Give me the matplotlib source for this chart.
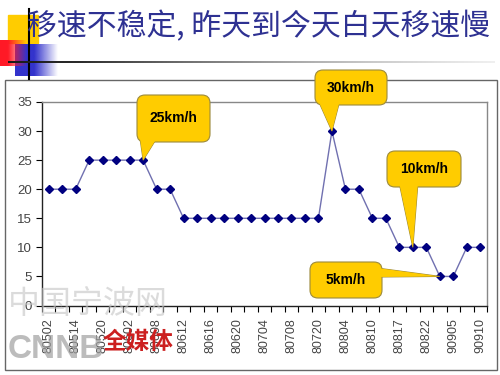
#!/usr/bin/env python3

import numpy as np
import matplotlib.pyplot as plt
from matplotlib.patches import FancyBboxPatch, Polygon, Rectangle

plt.rcParams['font.family'] = ['Liberation Sans', 'DejaVu Sans']
CJK = ['Noto Sans CJK SC', 'DejaVu Sans']

# data
speeds = [20, 20, 20, 25, 25, 25, 25, 25, 20, 20,
          15, 15, 15, 15, 15, 15, 15, 15, 15, 15, 15,
          30, 20, 20, 15, 15, 10, 10, 10, 5, 5, 10, 10]
tick_labels = ['80502', '80514', '80520', '80602', '80608', '80612', '80616',
               '80620', '80704', '80708', '80720', '80804', '80810', '80817',
               '80822', '90905', '90910']
title = '移速不稳定, 昨天到今天白天移速慢'
callout_idx = [7, 21, 27, 29]
callout_text = ['25km/h', '30km/h', '10km/h', '5km/h']

W, H = 500, 375
fig = plt.figure(figsize=(5, 3.75), dpi=100)
fig.patch.set_facecolor('white')

# background layer in pixel coords (y from top)
bg = fig.add_axes([0, 0, 1, 1], zorder=0)


def hgrad(ax, x0, x1, y0, y1, rgb, fade_start):
    n = 128
    t = np.linspace(0, 1, n)
    alpha = np.clip((1 - t) / (1 - fade_start), 0, 1)
    img = np.zeros((1, n, 4))
    img[..., :3] = rgb
    img[..., 3] = alpha
    ax.imshow(img, extent=(x0, x1, y1, y0), aspect='auto', interpolation='bilinear', zorder=1)


bg.add_patch(Rectangle((8, 15), 30, 28, color='#FFCC00', zorder=1))
hgrad(bg, 15, 58, 44, 76, (0.2, 0.2, 0.8), 0.45)
hgrad(bg, 0, 27, 40, 66, (1.0, 0.1, 0.15), 0.3)
bg.plot([29, 29], [9, 79], color='black', lw=1.5, zorder=2)

# fading rule under the title
n = 256
t = np.linspace(0, 1, n)
rule = np.zeros((1, n, 4))
rule[..., :3] = (0.1 + 0.5 * t)[None, :, None]
rule[..., 3] = np.clip(1.15 - t, 0, 1)
bg.imshow(rule, extent=(8, 495, 63.5, 61.5), aspect='auto', interpolation='bilinear', zorder=2)

bg.text(27, 27, title, fontsize=21.5, color='#2E3192', family=CJK, ha='left', va='center', zorder=3)

bg.add_patch(Rectangle((5, 80), 492, 290, facecolor='white', edgecolor='#666666', lw=1, zorder=1))
bg.set_xlim(0, W)
bg.set_ylim(H, 0)
bg.axis('off')

# chart
ax = fig.add_axes([42 / W, (H - 305.5) / H, (487 - 42) / W, (305.5 - 102) / H], zorder=1)
x = np.arange(len(speeds))
ax.plot(x, speeds, color='#7070B0', lw=1, marker='D', ms=4,
        mfc='#000080', mec='#000080', zorder=3)
ax.set_xlim(-0.45, len(speeds) - 0.55)
ax.set_ylim(0, 35)
ax.set_yticks(range(0, 36, 5))
ax.set_xticks(x[::2])
ax.set_xticklabels(tick_labels, rotation=90)
ax.set_xticks(np.arange(-0.5, len(speeds), 1), minor=True)
ax.tick_params(axis='x', which='major', length=0, pad=9, labelsize=9, labelcolor='#444444')
ax.tick_params(axis='x', which='minor', length=4, direction='out', width=0.8)
ax.tick_params(axis='y', length=4, width=0.8, labelsize=9.5, labelcolor='#444444', pad=3)
for s in ['left', 'bottom']:
    ax.spines[s].set_color('#222222')
    ax.spines[s].set_linewidth(1)
for s in ['top', 'right']:
    ax.spines[s].set_color('#888888')
    ax.spines[s].set_linewidth(1)

# overlay for callouts and watermark
top = fig.add_axes([0, 0, 1, 1], zorder=3)
top.set_xlim(0, W)
top.set_ylim(H, 0)
top.axis('off')


def tip(i):
    px, py = ax.transData.transform((i, speeds[i]))
    return px, H - py


boxes = [
    ((137, 95, 73, 47), [(139, 131), (155, 141)]),
    ((315, 70, 72, 35), [(318, 100), (340, 100)]),
    ((387, 151, 74, 36), [(399, 182), (418, 182)]),
    ((310, 262, 72, 36), [(377, 268), (377, 277)]),
]
face = '#FFCC00'
edge = '#9C8A3C'
for idx, label, (box, base) in zip(callout_idx, callout_text, boxes):
    bx, by, bw, bh = box
    pts = base + [tip(idx)]
    top.add_patch(Polygon(pts, closed=True, facecolor=face, edgecolor=edge, lw=0.8, zorder=2))
    top.add_patch(FancyBboxPatch((bx, by), bw, bh, boxstyle='round,pad=0,rounding_size=8',
                                 facecolor=face, edgecolor=edge, lw=0.8, zorder=3))
    top.add_patch(Polygon(pts, closed=True, facecolor=face, edgecolor='none', zorder=4))
    top.text(bx + bw / 2, by + bh / 2, label, fontsize=10, fontweight='bold',
             ha='center', va='center', zorder=5)

# watermark
top.text(8, 304, '中国宁波网', fontsize=23, color='#C4C4C4', alpha=0.6, family=CJK,
         ha='left', va='center', zorder=6)
top.text(8, 350, 'CNNB', fontsize=24, fontweight='bold', color='#A0A0A0', alpha=0.7,
         ha='left', va='center', zorder=6)
top.text(103, 342, '全媒体', fontsize=17, fontweight='bold', color='#CC2020', family=CJK,
         ha='left', va='center', zorder=6)

fig.savefig('out.png', dpi=100, facecolor='white')
plt.close(fig)
